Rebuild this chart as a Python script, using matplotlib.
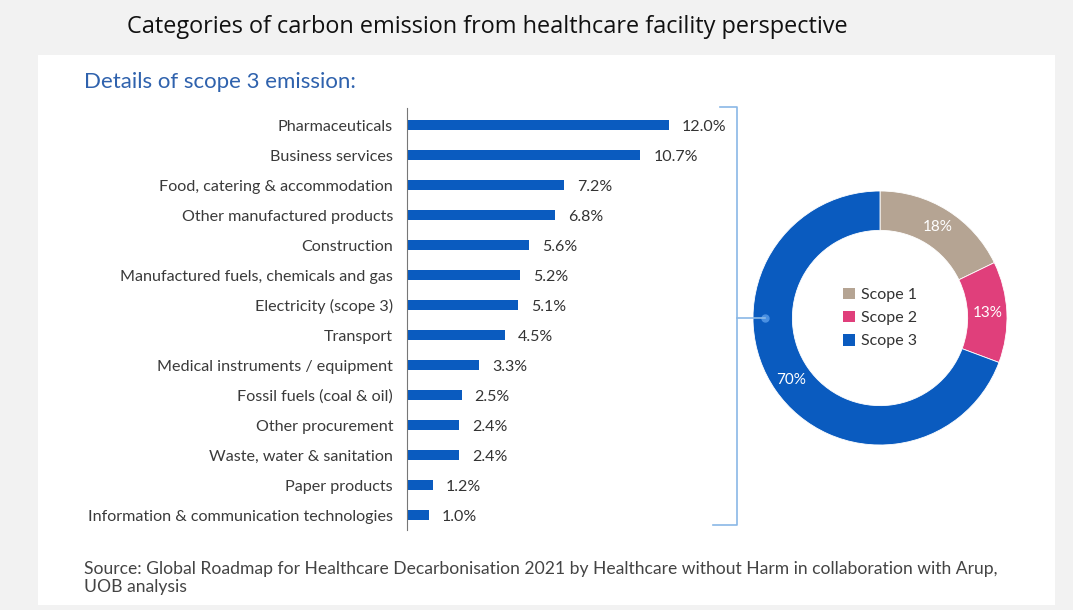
import numpy as np
import matplotlib
matplotlib.use('Agg')
import matplotlib.pyplot as plt
from matplotlib.patches import Rectangle, Patch
from matplotlib.lines import Line2D

# 数据
categories = ['Pharmaceuticals', 'Business services', 'Food, catering & accommodation',
              'Other manufactured products', 'Construction',
              'Manufactured fuels, chemicals and gas', 'Electricity (scope 3)',
              'Transport', 'Medical instruments / equipment', 'Fossil fuels (coal & oil)',
              'Other procurement', 'Waste, water & sanitation', 'Paper products',
              'Information & communication technologies']
shares = [12.0, 10.7, 7.2, 6.8, 5.6, 5.2, 5.1, 4.5, 3.3, 2.5, 2.4, 2.4, 1.2, 1.0]

scopes = ['Scope 1', 'Scope 2', 'Scope 3']
scope_values = [18, 13, 70]
scope_colors = ['#b5a493', '#e03f7b', '#0a5bbf']

W, H = 1073, 610
fig = plt.figure(figsize=(W / 100, H / 100), dpi=100, facecolor='#f2f2f2')

# 白色面板
fig.patches.append(Rectangle((38 / W, 5 / H), (1055 - 38) / W, (555 - 5) / H,
                             transform=fig.transFigure, facecolor='white',
                             edgecolor='none', zorder=-5))

fig.text(487 / W, 1 - 27 / H, 'Categories of carbon emission from healthcare facility perspective',
         ha='center', va='center', fontsize=16.9, family='Open Sans', color='#111111')
fig.text(84 / W, 1 - 82 / H, 'Details of scope 3 emission:', ha='left', va='center',
         fontsize=16, family='Lato', color='#2f62ad')
fig.text(84 / W, 1 - 578 / H,
         'Source: Global Roadmap for Healthcare Decarbonisation 2021 by Healthcare without Harm in collaboration with Arup,\nUOB analysis',
         ha='left', va='center', fontsize=12.65, family='Lato',
         color='#444444', linespacing=1.12)

# 条形图
px = 21.8
ax = fig.add_axes([407 / W, (H - 530) / H, 330 / W, 422 / H])
y = np.arange(len(categories))
ax.barh(y, shares, height=0.34, color='#0a5bbf')
ax.set_xlim(0, 330 / px)
ax.set_ylim(13.5, -0.567)
for s in ['top', 'right', 'bottom']:
    ax.spines[s].set_visible(False)
ax.spines['left'].set_color('#777777')
ax.spines['left'].set_linewidth(0.8)
ax.set_xticks([])
ax.set_yticks(y)
ax.set_yticklabels(categories, family='Lato', fontsize=11.6, color='#3a3a3a')
ax.tick_params(axis='y', length=0, pad=10)
ax.patch.set_alpha(0)
for yi, v in zip(y, shares):
    ax.text(v + 13 / px, yi + 0.05, f'{v:.1f}%', va='center', ha='left', family='Lato',
            fontsize=11.5, color='#333333')

# 括号线
lc = '#8ab8e6'
fig.add_artist(Line2D([720 / W, 737 / W, 737 / W, 713 / W],
                      [1 - 107 / H, 1 - 107 / H, 1 - 525 / H, 1 - 525 / H],
                      transform=fig.transFigure, color=lc, lw=1.2))
fig.add_artist(Line2D([737 / W, 765 / W], [1 - 318 / H, 1 - 318 / H],
                      transform=fig.transFigure, color=lc, lw=1.2))

# 环形图
cx, cy, r = 880, 318, 127
ax2 = fig.add_axes([(cx - r) / W, (H - cy - r) / H, 2 * r / W, 2 * r / H])
wedges, _ = ax2.pie(scope_values, colors=scope_colors, startangle=90, counterclock=False,
                    radius=1, wedgeprops=dict(width=0.31, edgecolor='white', linewidth=0.6))
ax2.set_xlim(-1, 1)
ax2.set_ylim(-1, 1)
ax2.axis('off')
for w, v in zip(wedges, scope_values):
    a = np.deg2rad((w.theta1 + w.theta2) / 2)
    ax2.text(0.85 * np.cos(a), 0.85 * np.sin(a), f'{v}%', ha='center', va='center',
             color='white', fontsize=11, family='Lato')
ax2.plot([-0.905], [0], 'o', color='#4a90e2', markersize=5, zorder=5)
handles = [Patch(facecolor=c, edgecolor='none') for c in scope_colors]
leg = ax2.legend(handles, scopes, loc='center', frameon=False, handlelength=0.75,
                 handleheight=0.75, handletextpad=0.35, labelspacing=0.55,
                 prop=dict(family='Lato', size=11.5), bbox_to_anchor=(0.5, 0.5))
for t in leg.get_texts():
    t.set_color('#333333')

fig.savefig('out.png', dpi=100, facecolor=fig.get_facecolor())
